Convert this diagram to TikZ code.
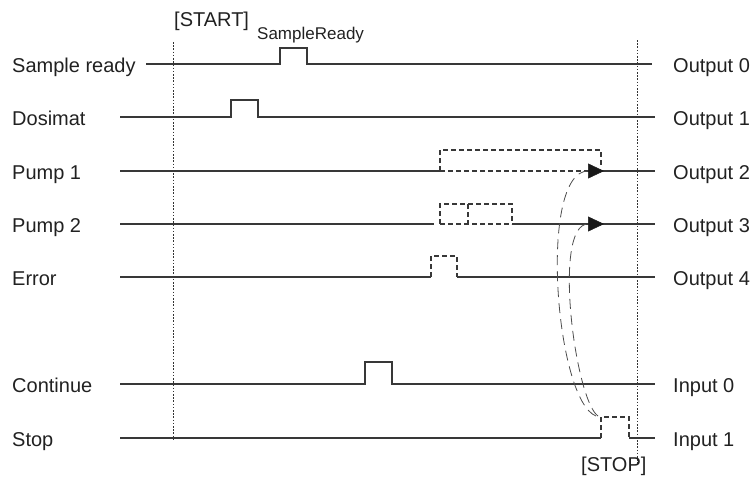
\documentclass[tikz,border=0pt]{standalone}
\usepackage{fontspec}
\setmainfont{Liberation Sans}
\usetikzlibrary{arrows.meta}
\begin{document}
\begin{tikzpicture}[x=1pt,y=-1pt,
  lbl/.style={anchor=base west,inner sep=0pt,font=\fontsize{20}{24}\selectfont,text=black!87},
  small/.style={anchor=base west,inner sep=0pt,font=\fontsize{17}{20}\selectfont,text=black!87},
  sig/.style={line width=1.3pt,draw=black!78,line join=miter},
  dsig/.style={line width=1.2pt,draw=black!78,dash pattern=on 5pt off 3pt},
  guide/.style={line width=0.9pt,draw=black!80,dash pattern=on 1.6pt off 1.6pt},
  flow/.style={line width=0.8pt,draw=black!70,dash pattern=on 10pt off 6pt},
  tip/.style={-{Triangle[length=16pt,width=15pt,color=black!90,line width=0.5pt]}}
]
\useasboundingbox (0,0) rectangle (755,479);

% guides
\coordinate (g1a) at (173,42); \coordinate (g1b) at (173,440);
\coordinate (g2a) at (637,40); \coordinate (g2b) at (637,465);
\draw[guide] (g1a) -- (g1b);
\draw[guide] (g2a) -- (g2b);

% labels left
\node[lbl] (lSR) at (12,72) {Sample ready};
\node[lbl] (lDO) at (12,125) {Dosimat};
\node[lbl] (lP1) at (12,179) {Pump 1};
\node[lbl] (lP2) at (12,232) {Pump 2};
\node[lbl] (lER) at (12,285) {Error};
\node[lbl] (lCO) at (12,392) {Continue};
\node[lbl] (lST) at (12,446) {Stop};

% labels right
\node[lbl] (rO0) at (673,72) {Output 0};
\node[lbl] (rO1) at (673,125) {Output 1};
\node[lbl] (rO2) at (673,179) {Output 2};
\node[lbl] (rO3) at (673,232) {Output 3};
\node[lbl] (rO4) at (673,285) {Output 4};
\node[lbl] (rI0) at (673,392) {Input 0};
\node[lbl] (rI1) at (673,446) {Input 1};

% top / bottom texts
\node[lbl] (start) at (174,27) {[START]};
\node[small] (sready) at (257,39) {SampleReady};
\node[lbl] (stop) at (581,471) {[STOP]};

% Sample ready
\draw[sig] (146,64) -- (280,64) -- (280,48) -- (307,48) -- (307,64) -- (652,64);
% Dosimat
\draw[sig] (120,117) -- (231,117) -- (231,100) -- (258,100) -- (258,117) -- (655,117);
% Pump 1
\draw[sig] (120,171) -- (440,171);
\draw[dsig] (440,171) -- (440,150) -- (601,150) -- (601,165);
\draw[dsig] (440,171) -- (590,171);
\draw[sig] (601,171) -- (655,171);
% Pump 2
\draw[sig] (120,224) -- (434,224);
\draw[dsig] (440,224) -- (440,204) -- (512,204) -- (512,224);
\draw[dsig] (468,204) -- (468,224);
\draw[dsig] (440,224) -- (512,224);
\draw[sig] (512,224) -- (655,224);
% Error
\draw[sig] (120,277) -- (431,277);
\draw[dsig] (431,277) -- (431,256) -- (457,256) -- (457,277);
\draw[sig] (457,277) -- (655,277);
% Continue
\draw[sig] (120,384) -- (365,384) -- (365,362) -- (392,362) -- (392,384) -- (655,384);
% Stop
\draw[sig] (120,438) -- (601,438);
\draw[dsig] (601,438) -- (601,417) -- (629,417) -- (629,438);
\draw[sig] (629,438) -- (655,438);

% flow arrows
\coordinate (s1) at (596,416);
\coordinate (s2) at (598,416);
\coordinate (p1) at (604,171);
\coordinate (p2) at (604,224);
\draw[flow,tip] (s1) .. controls (555,400) and (538,171) .. (p1);
\draw[flow,tip] (s2) .. controls (575,400) and (552,224) .. (p2);
\end{tikzpicture}
\end{document}
